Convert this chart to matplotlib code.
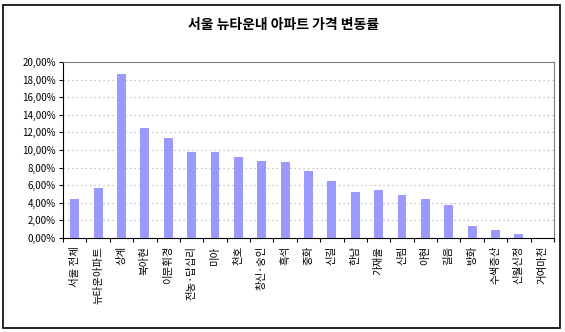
import numpy as np
import matplotlib.pyplot as plt
from matplotlib.patches import Rectangle
from matplotlib.ticker import FuncFormatter

plt.rcParams['font.family'] = ['Noto Sans CJK KR', 'DejaVu Sans']

# 지구별 아파트 가격 변동률 (%)
districts = ['서울 전체', '뉴타운아파트', '상계', '북아현', '이문휘경', '전농·답십리',
             '미아', '천호', '창신·숭인', '흑석', '중화', '신길', '한남', '가재울',
             '신림', '아현', '길음', '방화', '수색증산', '신월신정', '거여마천']
change_pct = [4.4, 5.7, 18.6, 12.5, 11.4, 9.8, 9.8, 9.2, 8.7, 8.6, 7.6, 6.5,
              5.2, 5.5, 4.9, 4.4, 3.7, 1.4, 0.9, 0.5, 0.0]
y_ticks = [0, 2, 4, 6, 8, 10, 12, 14, 16, 18, 20]

fig = plt.figure(figsize=(5.65, 3.32), dpi=100)
ax = fig.add_axes([63 / 565, 1 - 238 / 332, (554 - 63) / 565, (238 - 62) / 332])

x = np.arange(len(districts))
ax.bar(x, change_pct, width=0.38, color='#9999ff', zorder=3)

ax.set_xlim(-0.5, len(districts) - 0.5)
ax.set_ylim(0, 20)
ax.set_yticks(y_ticks)
ax.yaxis.set_major_formatter(FuncFormatter(lambda v, p: f'{v:.2f}%'.replace('.', ',')))
ax.tick_params(axis='y', labelsize=7, length=3, width=0.8, pad=2, direction='out')
ax.grid(axis='y', linestyle=(0, (1, 3)), color='#aaaaaa', linewidth=0.8, zorder=0)

# 범주 사이 눈금
ax.set_xticks(np.arange(len(districts) + 1) - 0.5)
ax.set_xticklabels([])
ax.tick_params(axis='x', length=3, width=0.8, direction='out')
for i, name in enumerate(districts):
    ax.text(i, -0.9, name, rotation=90, ha='center', va='top', fontsize=7.5)

for side in ['top', 'right']:
    ax.spines[side].set_color('#808080')
for side in ['left', 'bottom']:
    ax.spines[side].set_color('black')

fig.text(283 / 565, 1 - 25 / 332, '서울 뉴타운내 아파트 가격 변동률', ha='center', va='center',
         fontsize=10, fontweight='bold')

# 차트 바깥 테두리
fig.patches.append(Rectangle((3 / 565, 1 - 328 / 332), (560 - 3) / 565, (328 - 5) / 332,
                             transform=fig.transFigure, fill=False, edgecolor='black',
                             linewidth=1.2))

fig.savefig('out.png', dpi=100)
